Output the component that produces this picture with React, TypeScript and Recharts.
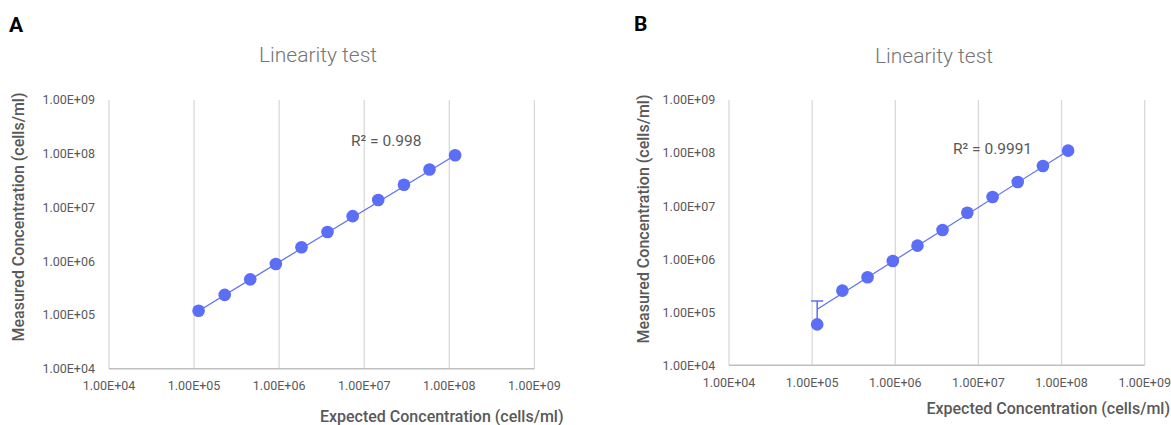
import React from 'react';
import { ScatterChart, Scatter, XAxis, YAxis, CartesianGrid, ErrorBar } from 'recharts';

// decade ticks shared by both axes of both panels
const logTicks = [1e4, 1e5, 1e6, 1e7, 1e8, 1e9];

// panel A
const expectedA = [1.13e5, 2.29e5, 4.57e5, 9.14e5, 1.83e6, 3.7e6, 7.31e6, 1.46e7, 2.93e7, 5.85e7, 1.17e8];
const measuredA = [1.2e5, 2.36e5, 4.6e5, 8.9e5, 1.82e6, 3.5e6, 6.9e6, 1.38e7, 2.65e7, 5.1e7, 9.4e7];
const trendAX = [1.13e5, 1.17e8];
const trendAY = [1.19e5, 9.4e7];

// panel B
const expectedB = [1.15e5, 2.31e5, 4.64e5, 9.34e5, 1.85e6, 3.7e6, 7.35e6, 1.48e7, 2.97e7, 5.97e7, 1.2e8];
const measuredB = [5.9e4, 2.55e5, 4.56e5, 9.25e5, 1.8e6, 3.55e6, 7.5e6, 1.49e7, 2.85e7, 5.7e7, 1.11e8];
const errUpperB = [1.04e5, 0, 0, 0, 0, 0, 0, 0, 0, 0, 0];
const trendBX = [1.15e5, 1.2e8];
const trendBY = [1.14e5, 1.11e8];

const r2A = 'R² = 0.998';
const r2B = 'R² = 0.9991';

const BLUE = '#5B6EF5';
const FONT = 'Roboto, "Noto Sans", sans-serif';

const fmtExp = (v: number) => {
  const [m, e] = v.toExponential(2).split('e');
  const n = Number(e);
  return `${m}E${n < 0 ? '-' : '+'}${String(Math.abs(n)).padStart(2, '0')}`;
};

const Dot = (p: any) => <circle cx={p.cx} cy={p.cy} r={6.3} fill={BLUE} />;
const NoDot = () => <g />;

const Panel = ({ xs, ys, tx, ty, errs, width, yAxisWidth, margin, yTickMargin }: any) => {
  const points = xs.map((x: number, i: number) => ({ x, y: ys[i] }));
  const trend = tx.map((x: number, i: number) => ({ x, y: ty[i] }));
  const errPoints = errs
    ? xs.map((x: number, i: number) => ({ x, y: ys[i], err: [0, errs[i]] })).filter((_: any, i: number) => errs[i] > 0)
    : [];
  const tick = { fill: '#595959', fontSize: 12.5, fontFamily: FONT };
  return (
    <ScatterChart width={width} height={425} margin={margin}>
      <CartesianGrid horizontal={false} stroke='#d9d9d9' strokeWidth={1.3} />
      <XAxis
        dataKey='x'
        type='number'
        scale='log'
        domain={[1e4, 1e9]}
        ticks={logTicks}
        interval={0}
        allowDataOverflow
        tickFormatter={fmtExp}
        tick={tick}
        tickLine={false}
        tickSize={0}
        tickMargin={12.5}
        height={20}
        axisLine={{ stroke: '#bfbfbf', strokeWidth: 1.5 }}
      />
      <YAxis
        dataKey='y'
        type='number'
        scale='log'
        domain={[1e4, 1e9]}
        ticks={logTicks}
        interval={0}
        allowDataOverflow
        tickFormatter={fmtExp}
        tick={tick}
        tickLine={false}
        tickSize={0}
        tickMargin={yTickMargin}
        width={yAxisWidth}
        axisLine={false}
      />
      <Scatter data={trend} line={{ stroke: BLUE, strokeWidth: 1.2 }} shape={NoDot} isAnimationActive={false} />
      {errPoints.length > 0 && (
        <Scatter data={errPoints} shape={NoDot} isAnimationActive={false}>
          <ErrorBar dataKey='err' direction='y' width={6} stroke={BLUE} strokeWidth={1.5} />
        </Scatter>
      )}
      <Scatter data={points} shape={Dot} isAnimationActive={false} />
    </ScatterChart>
  );
};

const titleStyle = { fontFamily: FONT, fontSize: 21, fontWeight: 300, fill: '#757575' };
const axisTitle = { fontFamily: FONT, fontSize: 16, fontWeight: 500, fill: '#595959' };
const r2Style = { fontFamily: FONT, fontSize: 15.5, fill: '#595959' };
const letter = { fontFamily: FONT, fontSize: 21, fontWeight: 700, fill: '#000' };

export default function App() {
  return (
    <div style={{ position: 'absolute', left: 0, top: 0, width: 1171, height: 425, background: '#fff', overflow: 'hidden' }}>
      <div style={{ position: 'absolute', left: 0, top: 0 }}>
        <Panel
          xs={expectedA}
          ys={measuredA}
          tx={trendAX}
          ty={trendAY}
          width={590}
          yAxisWidth={109}
          yTickMargin={14}
          margin={{ top: 100, right: 55.6, bottom: 36.3, left: 0 }}
        />
      </div>
      <div style={{ position: 'absolute', left: 590, top: 0 }}>
        <Panel
          xs={expectedB}
          ys={measuredB}
          tx={trendBX}
          ty={trendBY}
          errs={errUpperB}
          width={581}
          yAxisWidth={139}
          yTickMargin={13.8}
          margin={{ top: 100, right: 26.3, bottom: 39.7, left: 0 }}
        />
      </div>
      <svg width={1171} height={425} style={{ position: 'absolute', left: 0, top: 0, pointerEvents: 'none' }}>
        <text x={9} y={32} style={letter}>A</text>
        <text x={634} y={31} style={letter}>B</text>
        <text x={318} y={62} textAnchor='middle' style={titleStyle}>Linearity test</text>
        <text x={934} y={63} textAnchor='middle' style={titleStyle}>Linearity test</text>
        <text x={351} y={145.5} style={r2Style}>{r2A}</text>
        <text x={953} y={154} style={r2Style}>{r2B}</text>
        <text x={563.5} y={421.5} textAnchor='end' style={axisTitle}>Expected Concentration (cells/ml)</text>
        <text x={1170} y={413.5} textAnchor='end' style={axisTitle}>Expected Concentration (cells/ml)</text>
        <text transform='translate(23.5,217) rotate(-90)' textAnchor='middle' style={axisTitle}>Measured Concentration (cells/ml)</text>
        <text transform='translate(648.5,219) rotate(-90)' textAnchor='middle' style={axisTitle}>Measured Concentration (cells/ml)</text>
      </svg>
    </div>
  );
}
